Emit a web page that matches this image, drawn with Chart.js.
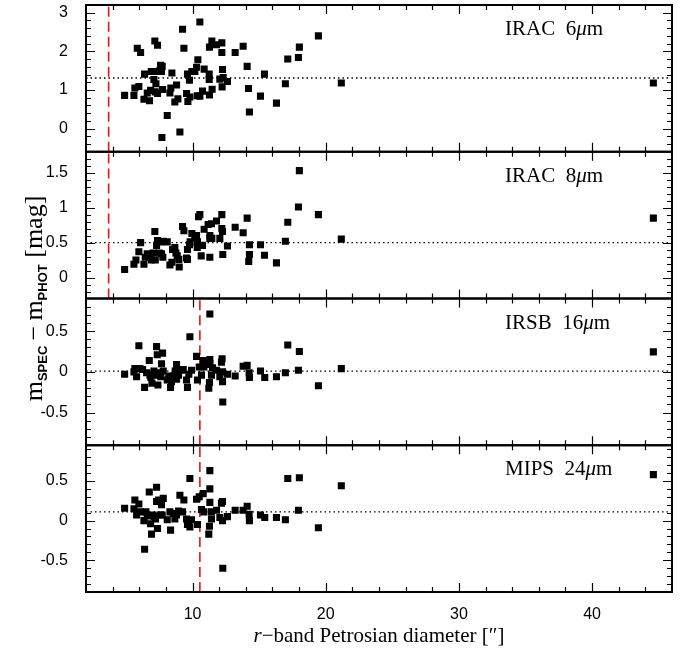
<!DOCTYPE html>
<html><head><meta charset="utf-8">
<script src="https://cdn.jsdelivr.net/npm/chart.js@4/dist/chart.umd.min.js"></script>
<style>html,body{margin:0;padding:0;background:#fff}</style>
</head><body>
<canvas id="c" width="690" height="656"></canvas>
<script>
// ---- data ----
const irac6X = [4.9,5.6,5.67,5.97,5.85,6.1,6.4,6.35,6.6,6.77,6.85,6.9,7.1,7.17,7.37,7.2,7.25,7.2,7.37,7.5,7.6,7.72,7.67,7.75,7.7,8.1,8.3,8.37,8.45,8.67,8.8,8.9,9.05,9.25,9.35,9.55,9.62,9.65,9.8,9.77,9.95,10.17,10.3,10.4,10.35,10.55,10.55,10.75,10.87,11.25,11.25,11.27,11.27,11.45,11.47,11.8,12.05,12.2,12.2,12.25,12.3,12.22,12.62,13.2,13.8,14.1,14.2,14.27,15.1,15.4,16.3,16.97,17.15,17.95,18.02,19.45,21.17,44.6];
const irac6Y = [0.86,0.86,1.05,1.09,2.08,1.97,1.41,0.76,0.92,0.72,0.99,1.48,1.27,2.27,2.16,1.48,1.16,0.95,0.91,1.49,1.64,1.61,1.48,1.01,-0.23,0.34,0.92,1.05,1.44,0.69,1.13,0.77,-0.09,2.57,2.08,0.91,1.41,0.70,0.82,1.25,1.48,1.48,1.59,1.78,0.85,2.76,0.84,0.97,1.54,1.41,1.27,2.11,0.87,2.27,1.02,2.17,1.28,2.22,1.97,1.53,1.32,1.08,1.22,1.97,2.13,1.61,1.04,0.43,0.84,1.41,0.66,1.16,1.80,1.84,2.11,2.40,1.18,1.18];
const irac8X = [4.9,5.6,5.75,5.97,6.1,6.35,6.45,6.6,6.8,6.92,7.05,7.17,7.2,7.3,7.37,7.5,7.6,7.67,7.8,7.77,8.1,8.3,8.45,8.5,8.67,8.75,8.85,8.97,9.0,9.25,9.35,9.55,9.62,9.62,9.77,9.82,9.95,10.17,10.3,10.35,10.45,10.55,10.37,10.65,10.75,10.87,11.17,11.3,11.3,11.3,11.42,11.45,11.8,12.05,12.2,12.2,12.25,12.27,12.62,13.2,13.8,14.1,14.27,14.27,14.22,15.1,15.4,16.3,16.97,17.15,17.95,18.02,19.45,21.17,44.6];
const irac8Y = [0.115,0.19,0.25,0.37,0.50,0.19,0.29,0.34,0.29,0.25,0.35,0.66,0.25,0.46,0.53,0.35,0.51,0.34,0.52,0.29,0.51,0.18,0.22,0.40,0.43,0.35,0.31,0.26,0.15,0.73,0.67,0.28,0.26,0.40,0.47,0.51,0.63,0.57,0.60,0.43,0.87,0.90,0.51,0.31,0.46,0.69,0.76,0.60,0.56,0.29,0.77,0.56,0.81,0.56,0.90,0.70,0.66,0.33,0.45,0.72,0.64,0.85,0.47,0.33,0.23,0.47,0.32,0.21,0.52,0.79,1.01,1.53,0.90,0.55,0.85];
const irsb16X = [4.9,5.6,5.67,5.8,5.97,6.05,6.25,6.4,6.55,6.75,6.8,6.87,6.95,7.1,7.17,7.3,7.35,7.4,7.3,7.5,7.67,7.75,7.62,7.8,8.1,8.22,8.35,8.42,8.55,8.7,8.8,8.8,8.95,9.17,9.3,9.55,9.62,9.72,9.8,9.92,10.3,10.37,10.5,10.67,10.8,10.85,11.05,11.22,11.27,11.3,11.3,11.3,11.42,11.5,11.8,12.05,12.17,12.22,12.25,12.25,12.27,12.62,13.2,13.8,14.1,14.25,14.27,15.1,15.42,16.3,16.97,17.15,17.95,18.02,19.45,21.17,44.6];
const irsb16Y = [-0.03,0.0,0.04,-0.06,0.32,0.04,0.03,-0.19,-0.01,0.14,-0.04,-0.07,-0.14,0.01,-0.02,0.31,0.21,-0.16,-0.04,-0.01,0.10,0.23,-0.06,0.01,-0.10,-0.05,-0.19,-0.12,-0.05,0.01,0.09,-0.09,-0.04,0.02,0.03,-0.10,-0.19,-0.03,0.43,0.02,0.19,-0.10,0.06,-0.04,0.14,0.06,0.09,-0.20,-0.13,0.71,0.15,0.10,-0.04,0.05,0.02,-0.06,0.12,0.16,0.0,-0.12,-0.37,-0.03,-0.05,0.07,0.08,-0.01,-0.07,0.01,-0.07,-0.06,-0.01,0.33,0.02,0.25,-0.17,0.04,0.245];
const mips24X = [4.9,5.6,5.67,5.8,5.97,6.1,6.35,6.4,6.5,6.6,6.75,6.85,6.92,7.0,7.12,7.22,7.3,7.3,7.37,7.45,7.55,7.67,7.72,7.8,8.1,8.3,8.35,8.55,8.67,8.8,8.95,9.05,9.25,9.35,9.55,9.62,9.72,9.8,9.8,9.92,10.3,10.37,10.5,10.67,10.8,10.85,11.22,11.27,11.3,11.3,11.3,11.42,11.42,11.8,12.05,12.17,12.25,12.25,12.27,12.62,13.2,13.8,14.1,14.25,14.27,15.1,15.42,16.3,16.97,17.15,17.95,18.02,19.45,21.17,44.6];
const mips24Y = [0.155,0.15,0.26,0.07,0.21,0.11,0.0,-0.36,0.11,0.06,0.36,-0.04,-0.17,0.07,0.05,0.02,0.42,0.24,-0.10,0.26,0.07,0.20,0.07,0.28,0.01,0.11,-0.12,0.09,0.02,0.07,0.12,0.32,0.11,0.26,0.02,-0.05,-0.01,0.53,-0.08,0.01,0.27,-0.05,0.30,0.14,0.34,0.11,-0.17,-0.07,0.63,0.40,0.23,0.02,0.11,0.13,0.04,0.22,0.24,0.0,-0.60,0.05,0.13,0.13,0.18,0.08,0.0,0.07,0.04,0.04,0.01,0.53,0.13,0.54,-0.09,0.44,0.58];

const bandNames = ['IRAC', 'IRAC', 'IRSB', 'MIPS'];
const bandWaves = ['6', '8', '16', '24'];
const medianY = [1.31, 0.5, 0.01, 0.11];   // dotted horizontal lines
const cutX = [3.7, 3.7, 10.55, 10.55];     // red dashed vertical lines

const yMin = [-0.6, -0.3, -0.9, -0.9];
const yMax = [3.2, 1.8, 0.9, 0.95];
const yMajor = [1, 0.5, 0.5, 0.5];
const yMinor = [0.2, 0.1, 0.1, 0.1];
const xMin = 2, xMax = 46, xMajor = 10, xMinor = 2;

const xTitleItalic = 'r';
const xTitleRest = '\u2212band Petrosian diameter [\u2033]';

// ---- build ----
const seriesX = [irac6X, irac8X, irsb16X, mips24X];
const seriesY = [irac6Y, irac8Y, irsb16Y, mips24Y];
const ids = ['p0', 'p1', 'p2', 'p3'];   // top to bottom
const isMult = (v, step) => Math.abs(v / step - Math.round(v / step)) < 1e-6;
const fmt = v => { const r = Math.round(v * 100) / 100; return r === 0 ? '0' : String(r); };
const TICKFONT = {family: 'Liberation Sans, Arial, sans-serif', size: 16};

const datasets = [];
ids.forEach((id, i) => {
  const n = Math.min(seriesX[i].length, seriesY[i].length);
  const pts = [];
  for (let k = 0; k < n; k++) pts.push({x: seriesX[i][k], y: seriesY[i][k]});
  datasets.push({type: 'scatter', data: pts, yAxisID: id, pointStyle: 'rect', pointRadius: 5,
    pointHoverRadius: 5, backgroundColor: '#000', borderWidth: 0, order: 0});
  datasets.push({type: 'line', data: [{x: xMin, y: medianY[i]}, {x: xMax, y: medianY[i]}], yAxisID: id,
    borderColor: '#000', borderWidth: 1.3, borderDash: [1.5, 3], pointRadius: 0, fill: false, order: 2});
  datasets.push({type: 'line', data: [{x: cutX[i], y: yMin[i]}, {x: cutX[i], y: yMax[i]}], yAxisID: id,
    borderColor: '#f01010', borderWidth: 1.6, borderDash: [10, 5], pointRadius: 0, fill: false, order: 1});
});

const scales = {
  x: {type: 'linear', position: 'bottom', min: xMin, max: xMax,
    grid: {display: false}, border: {display: false},
    ticks: {stepSize: xMinor, autoSkip: false, maxRotation: 0, padding: 5, color: '#000', font: TICKFONT,
      callback: v => isMult(v, xMajor) ? String(Math.round(v)) : ''},
    afterFit: s => { s.height = 64; s.paddingLeft = 0; s.paddingRight = 0; }}
};
// stacked scales are laid out bottom-up, so register the bottom panel first
for (let i = ids.length - 1; i >= 0; i--) {
  const id = ids[i];
  scales[id] = {type: 'linear', position: 'left', stack: 'panels', stackWeight: 1, offset: false,
    min: yMin[i], max: yMax[i], grid: {display: false}, border: {display: false},
    ticks: {stepSize: yMinor[i], autoSkip: false, padding: 10, color: '#000', font: TICKFONT,
      callback: v => isMult(v, yMajor[i]) ? fmt(v) : ''},
    afterFit: s => { s.width = 86; s.paddingTop = 0; s.paddingBottom = 0; }};
}

function drawSegments(ctx, segs, x, y, align) {
  let total = 0;
  segs.forEach(s => { ctx.font = s.font; s.w = ctx.measureText(s.t).width; total += s.w; });
  let cx = align === 'center' ? x - total / 2 : x;
  segs.forEach(s => { ctx.font = s.font; ctx.fillText(s.t, cx, y + (s.dy || 0)); cx += s.w; });
}

const framePlugin = {
  id: 'frames',
  afterDraw(chart) {
    const ctx = chart.ctx, area = chart.chartArea, xs = chart.scales.x;
    ctx.save();
    ctx.strokeStyle = '#000';
    ctx.fillStyle = '#000';
    ids.forEach((id, i) => {
      const s = chart.scales[id];
      const top = s.top, bot = s.bottom;
      ctx.lineWidth = 1.2;
      ctx.beginPath();
      for (let k = 0; xMin + k * xMinor <= xMax + 1e-9; k++) {
        const v = xMin + k * xMinor;
        if (v <= xMin || v >= xMax) continue;
        const p = Math.round(xs.getPixelForValue(v)) + 0.5;
        const L = isMult(v, xMajor) ? 9 : 5;
        ctx.moveTo(p, top); ctx.lineTo(p, top + L);
        ctx.moveTo(p, bot); ctx.lineTo(p, bot - L);
      }
      const start = Math.ceil(yMin[i] / yMinor[i] - 1e-6);
      for (let k = start; k * yMinor[i] <= yMax[i] + 1e-9; k++) {
        const v = k * yMinor[i];
        if (v <= yMin[i] + 1e-9 || v >= yMax[i] - 1e-9) continue;
        const p = Math.round(s.getPixelForValue(v)) + 0.5;
        const L = isMult(v, yMajor[i]) ? 9 : 5;
        ctx.moveTo(area.left, p); ctx.lineTo(area.left + L, p);
        ctx.moveTo(area.right, p); ctx.lineTo(area.right - L, p);
      }
      ctx.stroke();
      ctx.lineWidth = 2;
      ctx.strokeRect(area.left, top, area.right - area.left, bot - top);
      // panel label
      ctx.textBaseline = 'alphabetic';
      drawSegments(ctx, [
        {t: bandNames[i] + '  ' + bandWaves[i], font: '21px "Liberation Serif", serif'},
        {t: '\u03bc', font: 'italic 21px "Liberation Serif", serif'},
        {t: 'm', font: '21px "Liberation Serif", serif'}
      ], 505, top + 30, 'left');
    });
    // x title
    drawSegments(ctx, [
      {t: xTitleItalic, font: 'italic 21px "Liberation Serif", serif'},
      {t: xTitleRest, font: '21px "Liberation Serif", serif'}
    ], (area.left + area.right) / 2, 642, 'center');
    // y title (rotated)
    ctx.translate(42, (area.top + area.bottom) / 2);
    ctx.rotate(-Math.PI / 2);
    drawSegments(ctx, [
      {t: 'm', font: '26px "Liberation Serif", serif'},
      {t: 'SPEC', font: 'bold 13px "Liberation Sans", sans-serif', dy: 5},
      {t: '\u2009\u2212\u2009', font: '26px "Liberation Serif", serif'},
      {t: 'm', font: '26px "Liberation Serif", serif'},
      {t: 'PHOT', font: 'bold 13px "Liberation Sans", sans-serif', dy: 5},
      {t: ' [mag]', font: '26px "Liberation Serif", serif'}
    ], 0, 0, 'center');
    ctx.restore();
  }
};

new Chart(document.getElementById('c'), {
  data: {datasets},
  options: {
    responsive: false, animation: false,
    layout: {padding: {left: 0, right: 18, top: 5, bottom: 0}},
    plugins: {legend: {display: false}, tooltip: {enabled: false}, title: {display: false}},
    scales
  },
  plugins: [framePlugin]
});
</script>
</body></html>
